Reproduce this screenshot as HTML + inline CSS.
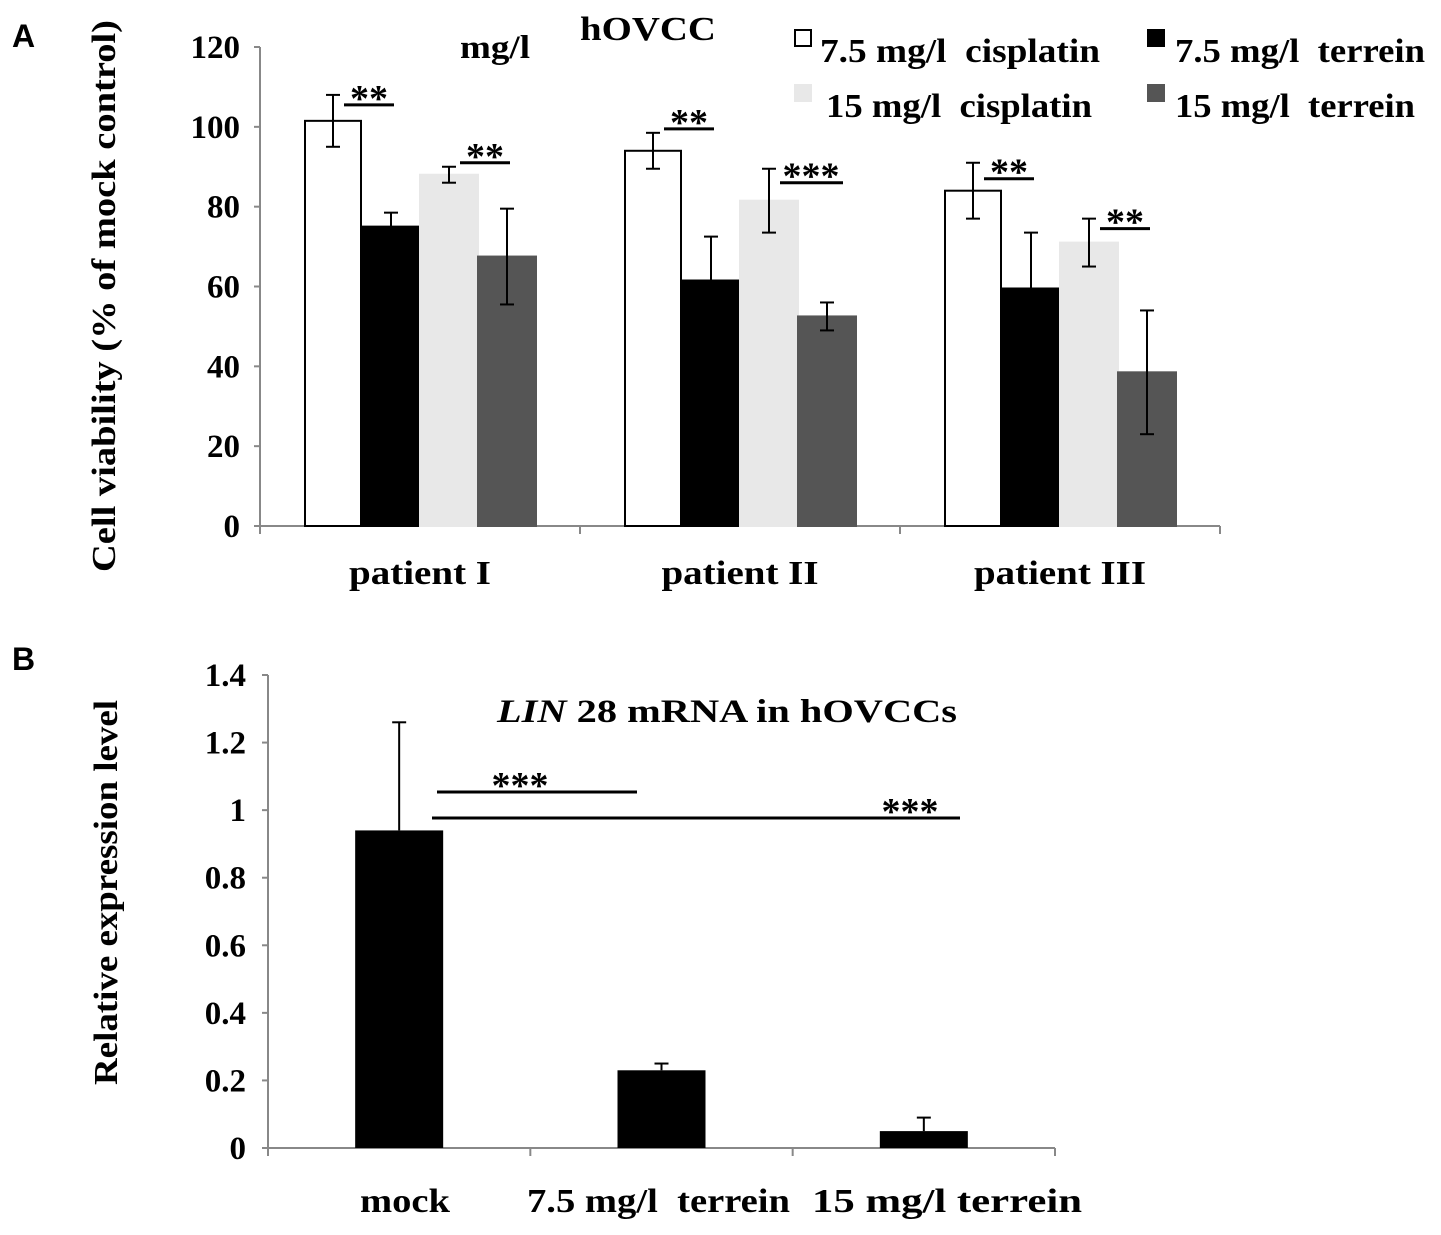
<!DOCTYPE html>
<html><head><meta charset="utf-8"><style>
html,body{margin:0;padding:0;background:#fff;}
svg{display:block;font-family:"Liberation Serif",serif;font-weight:bold;}
</style></head><body>
<svg id="chart" width="1441" height="1235" viewBox="0 0 1441 1235" xmlns="http://www.w3.org/2000/svg">
<text x="12" y="47" font-family="Liberation Sans,sans-serif" font-size="32">A</text>
<text x="12" y="670" font-family="Liberation Sans,sans-serif" font-size="32">B</text>
<text x="460" y="58" font-size="33" textLength="70" lengthAdjust="spacingAndGlyphs">mg/l</text>
<text x="580" y="40" font-size="34" textLength="136" lengthAdjust="spacingAndGlyphs">hOVCC</text>
<text x="117" y="1085" font-size="34" textLength="385" lengthAdjust="spacingAndGlyphs" transform="rotate(-90 117 1085)">Relative expression level</text>
<text x="115" y="572" font-size="34" textLength="552" lengthAdjust="spacingAndGlyphs" transform="rotate(-90 115 572)">Cell viability (% of mock control)</text>
<text x="497" y="722" font-size="33" textLength="460" lengthAdjust="spacingAndGlyphs"><tspan font-style="italic">LIN</tspan> 28 mRNA in hOVCCs</text>
</svg>
<script>
const catsA = ["patient I","patient II","patient III"];
const seriesNames = ["7.5 mg/l  cisplatin","7.5 mg/l  terrein","15 mg/l  cisplatin","15 mg/l  terrein"];
const cis75 = [101.5, 94, 84];
const ter75 = [75, 61.5, 59.5];
const cis15 = [88, 81.5, 71];
const ter15 = [67.5, 52.5, 38.5];
const errCis75 = [6.5, 4.5, 7];
const errTer75 = [3.5, 11, 14];
const errCis15 = [2, 8, 6];
const errTer15 = [12, 3.5, 15.5];
const ticksA = [0,20,40,60,80,100,120];
const sigA = ["**","**","**","***","**","**"];
const sigLevelA = [105.5, 91, 99.5, 86, 87, 74.5];
const catsB = ["mock","7.5 mg/l  terrein","15 mg/l terrein"];
const valsB = [0.94, 0.23, 0.05];
const errB = [0.32, 0.02, 0.04];
const ticksB = ["0","0.2","0.4","0.6","0.8","1","1.2","1.4"];

const svg = document.getElementById('chart');
const NS = "http://www.w3.org/2000/svg";
function mk(tag, attrs, parent){const e=document.createElementNS(NS,tag);for(const k in attrs)e.setAttribute(k,attrs[k]);(parent||svg).appendChild(e);return e;}

// Panel A
const A = {x0:260, x1:1220, y0:526, y1:47, max:120};
const yA = v => A.y0 - v/A.max*(A.y0-A.y1);
const catW = (A.x1-A.x0)/3;
const cxA = i => A.x0 + catW*(i+0.5);
const barW = 58;
let e = mk('line',{x1:A.x0,y1:A.y1,x2:A.x0,y2:A.y0+6,stroke:'#888','stroke-width':2});
 
e = mk('line',{x1:A.x0,y1:A.y0,x2:A.x1,y2:A.y0,stroke:'#888','stroke-width':2});
 
ticksA.forEach(t=>{
  mk('line',{x1:A.x0-6,x2:A.x0,y1:yA(t),y2:yA(t),stroke:'#888','stroke-width':2});
  const tx = mk('text',{x:A.x0-20,y:yA(t)+11,'text-anchor':'end','font-size':33});
  tx.textContent=t;
   
});
for(let i=0;i<=3;i++) mk('line',{x1:A.x0+catW*i,x2:A.x0+catW*i,y1:A.y0,y2:A.y0+8,stroke:'#888','stroke-width':2});
const seriesA=[cis75,ter75,cis15,ter15], errsA=[errCis75,errTer75,errCis15,errTer15];
const fills=['#fff','#000','#e8e8e8','#555'], strokes=['#000','#000','#e8e8e8','#555'];
const labWA=[142,157,172];
catsA.forEach((c,i)=>{
  seriesA.forEach((s,j)=>{
    const x = cxA(i) - 2*barW + j*barW;
    const r = mk('rect',{x:x+(j==0?1:0),y:yA(s[i]),width:barW-(j==0?2:0),height:A.y0-yA(s[i]),fill:fills[j],stroke:strokes[j],'stroke-width':2});
     
    const ex = x+barW/2, t=yA(s[i]+errsA[j][i]), b=yA(s[i]-errsA[j][i]);
    const g = mk('g',{stroke:'#000','stroke-width':2});
     
    mk('line',{x1:ex,x2:ex,y1:t,y2:b},g);mk('line',{x1:ex-7,x2:ex+7,y1:t,y2:t},g);mk('line',{x1:ex-7,x2:ex+7,y1:b,y2:b},g);
  });
  [[0,1],[2,3]].forEach((p,k)=>{
    const x = cxA(i) - 2*barW + p[1]*barW;
    const ly = yA(sigLevelA[i*2+k]);
    const wide = sigA[i*2+k].length==3;
    mk('line',{x1:x-18,x2:x+(wide?45:32),y1:ly,y2:ly,stroke:'#000','stroke-width':3});
    const st = mk('text',{x:x+(wide?13:7),y:ly+6,'text-anchor':'middle','font-size':38});
    st.textContent = sigA[i*2+k];
     
  });
  const lt = mk('text',{x:cxA(i),y:584,'text-anchor':'middle','font-size':34,textLength:labWA[i],lengthAdjust:'spacingAndGlyphs'});
  lt.textContent=c;
   
});
const legPos=[[795,50],[1148,50],[795,105],[1148,105]];
const legTx=[[820,280],[1175,250],[826,266],[1175,240]];
seriesNames.forEach((n,j)=>{
  const g = mk('g',{});
   
  mk('rect',{x:legPos[j][0],y:legPos[j][1]-20,width:16,height:16,fill:fills[j],stroke:j==0?'#000':fills[j],'stroke-width':2},g);
  const t=mk('text',{x:legTx[j][0],y:legPos[j][1]+12,'font-size':34,textLength:legTx[j][1],lengthAdjust:'spacingAndGlyphs'},g);
  t.textContent=n; t.style.whiteSpace='pre';
});

// Panel B
const B = {x0:268, x1:1055, y0:1148, y1:675, max:1.4};
const yB = v => B.y0 - v/B.max*(B.y0-B.y1);
const cwB = (B.x1-B.x0)/3;
const cxB = i => B.x0 + cwB*(i+0.5);
e = mk('line',{x1:B.x0,y1:B.y1,x2:B.x0,y2:B.y0+6,stroke:'#888','stroke-width':2});
 
e = mk('line',{x1:B.x0,y1:B.y0,x2:B.x1,y2:B.y0,stroke:'#888','stroke-width':2});
 
ticksB.forEach(t=>{
  const v=parseFloat(t);
  mk('line',{x1:B.x0-6,x2:B.x0,y1:yB(v),y2:yB(v),stroke:'#888','stroke-width':2});
  const tx = mk('text',{x:B.x0-22,y:yB(v)+11,'text-anchor':'end','font-size':33});
  tx.textContent=t;
   
});
for(let i=0;i<=3;i++) mk('line',{x1:B.x0+cwB*i,x2:B.x0+cwB*i,y1:B.y0,y2:B.y0+8,stroke:'#888','stroke-width':2});
const labXB=[[360,90],[527,263],[812,270]];
catsB.forEach((c,i)=>{
  const w=88, x=cxB(i)-w/2;
  const r=mk('rect',{x:x,y:yB(valsB[i]),width:w,height:B.y0-yB(valsB[i]),fill:'#000'});
   
  const t=yB(valsB[i]+errB[i]), ex=x+w/2;
  const g = mk('g',{stroke:'#000','stroke-width':2});
   
  mk('line',{x1:ex,x2:ex,y1:t,y2:yB(valsB[i])},g);mk('line',{x1:ex-7,x2:ex+7,y1:t,y2:t},g);
  const lt = mk('text',{x:labXB[i][0],y:1212,'font-size':34,textLength:labXB[i][1],lengthAdjust:'spacingAndGlyphs'});
  lt.textContent=c; lt.style.whiteSpace='pre';
   
});
[[437,637,792,520],[432,960,818,910]].forEach(s=>{
  const l=mk('line',{x1:s[0],x2:s[1],y1:s[2],y2:s[2],stroke:'#000','stroke-width':3});
   
  const t=mk('text',{x:s[3],y:s[2]+6,'text-anchor':'middle','font-size':38});
  t.textContent='***';
   
});
</script>
</body></html>
